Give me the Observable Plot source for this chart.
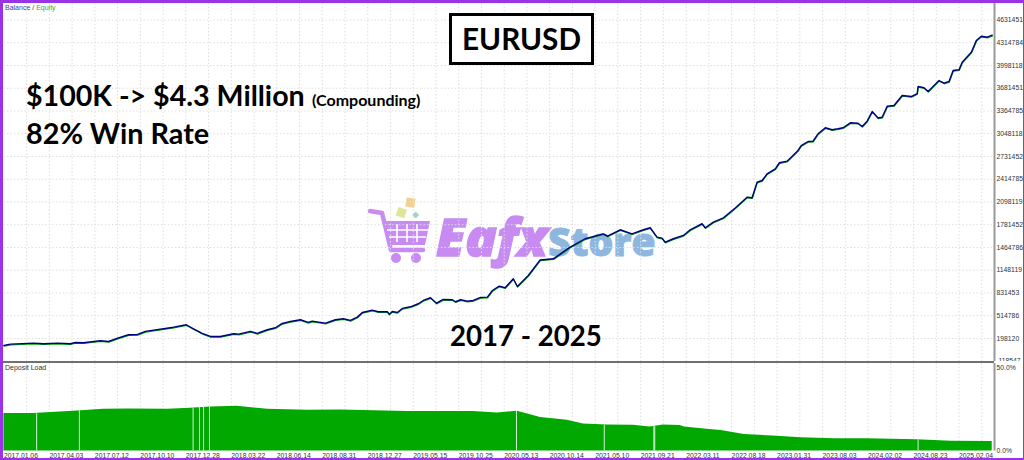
<!DOCTYPE html>
<html><head><meta charset="utf-8">
<script src="https://cdn.jsdelivr.net/npm/d3@7"></script>
<script src="https://cdn.jsdelivr.net/npm/@observablehq/plot@0.6"></script>
<style>
html,body{margin:0;padding:0;background:#fff;overflow:hidden}
#wrap{position:relative;width:1024px;height:460px;overflow:hidden;font-family:Lato,sans-serif;color:#000}
#wrap svg.p{position:absolute;left:0;z-index:2;background:transparent}
.t{position:absolute;z-index:3;font-weight:700;white-space:nowrap;line-height:1}
#frame{position:absolute;inset:0;border:solid #9a32e6;border-width:3px 1px 2px 3px;z-index:5;pointer-events:none}
#sep{position:absolute;left:3px;width:991px;top:361px;height:2px;background:#707070;z-index:3}
#logo{position:absolute;left:0;top:0;z-index:1}
.small{position:absolute;z-index:3;font:7px "Liberation Sans",sans-serif;white-space:nowrap}
</style></head><body>
<div id="wrap">
<svg id="logo" width="1024" height="460">
  <g fill="none" stroke="#c78bf2" stroke-linecap="round" stroke-linejoin="round">
    <path d="M370 211 L382 213 L391 250 L423 250" stroke-width="4.5"/>
  </g>
  <path d="M384 221 L430 221 L425 245 L389 245 Z" fill="#c78bf2"/>
  <g stroke="#fff" stroke-width="1.6"><path d="M397 224V242M407 224V242M417 224V242M387 230H428M389 237H426"/></g>
  <circle cx="396" cy="258" r="5" fill="#c78bf2"/><circle cx="416" cy="258" r="5" fill="#c78bf2"/>
  <rect x="406" y="198" width="9" height="9" fill="#f3d08f" transform="rotate(8 410 202)"/>
  <rect x="397" y="208" width="9" height="9" fill="#dfe69a" transform="rotate(18 401 212)"/>
  <rect x="413" y="212" width="5" height="5" fill="#9fd6c8" transform="rotate(45 415 215)"/>
  <text x="436" y="256" font-family="Open Sans" font-weight="800" font-style="italic" font-size="52" fill="#c78bf2" stroke="#c78bf2" stroke-width="1.5">Eafx</text>
  <text x="548" y="256" font-family="Open Sans" font-weight="800" font-size="39" fill="#8eb7e0" stroke="#8eb7e0" stroke-width="1">Store</text>
</svg>
<div id="sep"></div>
<div id="frame"></div>
</div>
<script>
const tradePos = [0,.145,.65,.87,1.18,1.46,1.57,1.75,2.12,2.30,2.50,2.74,2.94,3.11,3.51,3.73,4.01,4.17,4.36,4.54,4.76,5.05,5.16,5.42,5.57,5.79,5.97,6.12,6.30,6.52,6.69,6.78,7.07,7.29,7.46,7.62,7.77,7.88,8.10,8.23,8.43,8.47,8.54,8.65,8.76,8.94,9.11,9.22,9.38,9.51,9.66,9.86,9.93,10.04,10.19,10.32,10.48,10.63,10.74,10.89,11.02,11.20,11.29,11.53,11.79,12.08,12.45,12.78,13.18,13.27,13.55,13.81,14.06,14.21,14.36,14.47,14.54,14.72,14.94,15.09,15.35,15.42,15.60,15.82,16.08,16.34,16.45,16.56,16.67,16.78,16.96,17.05,17.22,17.46,17.53,17.68,17.79,17.90,18.06,18.21,18.34,18.45,18.61,18.78,18.87,18.98,19.09,19.22,19.31,19.42,19.57,19.75,19.95,20.08,20.10,20.23,20.32,20.56,20.67,20.78,20.87,21.00,21.07,21.27,21.38,21.49,21.62,21.73];
const balanceK = [100,119,133,124,133,124,142,138,166,156,202,250,254,296,333,355,389,333,268,226,226,264,258,296,268,319,347,407,435,458,421,439,411,458,472,449,495,560,592,570,570,536,574,560,616,639,681,727,765,689,741,737,709,737,717,727,769,773,866,926,904,1029,922,1075,1291,1307,1469,1586,1655,1622,1711,1655,1711,1739,1608,1594,1538,1586,1632,1711,1795,1739,1817,1878,2015,2165,2156,2374,2397,2490,2560,2644,2666,2815,2884,2940,2944,3047,3131,3103,3117,3131,3200,3195,3149,3223,3358,3267,3278,3430,3441,3580,3566,3608,3706,3688,3636,3789,3752,3775,3928,3938,4044,4183,4346,4406,4392,4420];
const loadPos = [0,.65,1.62,2.19,2.72,3.6,4.1,4.54,5.13,5.8,6.67,7.4,8.87,10.32,10.85,11.29,11.8,12.39,12.74,13.27,13.84,14.21,14.5,14.87,14.96,15.46,15.77,16.28,17.0,17.53,18.26,18.98,20.08,20.83,21.73];
const loadPct = [22.4,22.4,24,25,25.2,25,25.6,26.4,26.8,25,24.4,24.6,23.6,23.6,22.8,23.8,20,18.4,16.1,15.5,15.4,14.3,15.5,15.2,14.3,13,12.3,9.9,8.9,7.9,7.3,7.3,6.7,5.9,5.7];
const gapPos = [.72,1.66,4.16,4.30,4.39,4.52,11.27,13.20,14.29,14.31,20.10];
const gapLoad = [22.4,24,25.6,26,26.2,26.4,23.8,15.5,14.6,14.6,6.7];
const yTicks = [-118547,198120,514786,831453,1148119,1464786,1781452,2098119,2414785,2731452,3048118,3364785,3681451,3998118,4314784,4631451];
const dateLabels = ["2017.01.06","2017.04.03","2017.07.12","2017.10.10","2017.12.28","2018.03.22","2018.06.14","2018.08.31","2018.12.27","2019.05.15","2019.10.25","2020.05.13","2020.10.14","2021.05.10","2021.09.21","2022.03.11","2022.08.18","2023.01.31","2023.08.03","2024.02.02","2024.08.23","2025.02.04"];
const loadTicks = [0,50];
const xMax = 21.78;
const halfTicks = d3.range(0, xMax, .5);
const curve = tradePos.map((p,i)=>({p, v:balanceK[i]*1000}));
const load = loadPos.map((p,i)=>({p, v:loadPct[i]}));
const gaps = gapPos.map((p,i)=>({p, v:gapLoad[i]}));
const axisFont = {fontSize:6.8, fontFamily:"Liberation Sans", fill:"#333"};
const grid = {stroke:"#dedede", strokeDasharray:"1.5 2", strokeWidth:1};
const xScale = {type:"linear", domain:[0,xMax], range:[3.4,994]};

const top_ = Plot.plot({
  width:1024, height:361, marginLeft:3.4, marginRight:30, marginTop:3, marginBottom:0,
  style:{background:"transparent"},
  x:{...xScale, axis:null},
  y:{type:"linear", domain:[-118547,4631451], range:[360.7,19.5]},
  marks:[
    Plot.ruleX(halfTicks.slice(1), grid),
    Plot.ruleY(yTicks.slice(1), grid),
    Plot.line(curve,{x:"p",y:"v",stroke:"#00a000",strokeWidth:1.1,dy:.7,dx:.3}),
    Plot.line(curve,{x:"p",y:"v",stroke:"#00007f",strokeWidth:1.4}),
    Plot.ruleX([xMax],{stroke:"#999",strokeWidth:2}),
    Plot.axisY({anchor:"right",ticks:yTicks,tickSize:0,tickPadding:2,tickFormat:d=>d<0?"."+(-d):String(d),label:null,...axisFont})
  ]
});
const bottom_ = Plot.plot({
  width:1024, height:97, marginLeft:3.4, marginRight:30, marginTop:0, marginBottom:9.5,
  style:{background:"transparent"},
  x:{...xScale},
  y:{type:"linear", domain:[0,50], range:[87.5,4]},
  marks:[
    Plot.ruleX(halfTicks.slice(1), grid),
    Plot.areaY(load,{x:"p",y:"v",fill:"#00a800"}),
    Plot.ruleX(gaps,{x:"p",y1:0,y2:"v",stroke:"#d4efd4",strokeWidth:1}),
    Plot.ruleX([xMax],{stroke:"#999",strokeWidth:2,y1:0,y2:53}),
    Plot.axisX({ticks:d3.range(dateLabels.length),tickSize:0,tickPadding:2,textAnchor:"start",tickFormat:i=>dateLabels[i],label:null,...axisFont}),
    Plot.axisY({anchor:"right",ticks:loadTicks,tickSize:0,tickPadding:2,tickFormat:d=>d.toFixed(1)+"%",label:null,...axisFont})
  ]
});
top_.classList.add("p"); top_.style.top="0px";
bottom_.classList.add("p"); bottom_.style.top="363px";
const wrap = document.getElementById("wrap");
wrap.append(top_, bottom_);

function addText(txt,left,top,size,extra){
  const d=document.createElement("div");d.className="t";d.textContent=txt;
  d.style.left=left+"px";d.style.top=top+"px";d.style.fontSize=size+"px";
  Object.assign(d.style,extra||{});wrap.append(d);return d;
}
addText("$100K -> $4.3 Million",26,81,28.6);
addText("(Compounding)",312,92,16);
addText("82% Win Rate",26,119,28.8);
addText("2017 - 2025",450,322,27.6);
addText("EURUSD",449,13,29.7,{border:"3px solid #000",width:"139px",height:"46px",lineHeight:"46px",textAlign:"center",background:"#fff"});
function small(html,left,top){const d=document.createElement("div");d.className="small";d.innerHTML=html;d.style.left=left+"px";d.style.top=top+"px";wrap.append(d);}
small('<span style="color:#3a3ab0">Balance</span> <span style="color:#333">/</span> <span style="color:#30b030">Equity</span>',5,4);
small('<span style="color:#333">Deposit Load</span>',5,364);
</script>
</body></html>
